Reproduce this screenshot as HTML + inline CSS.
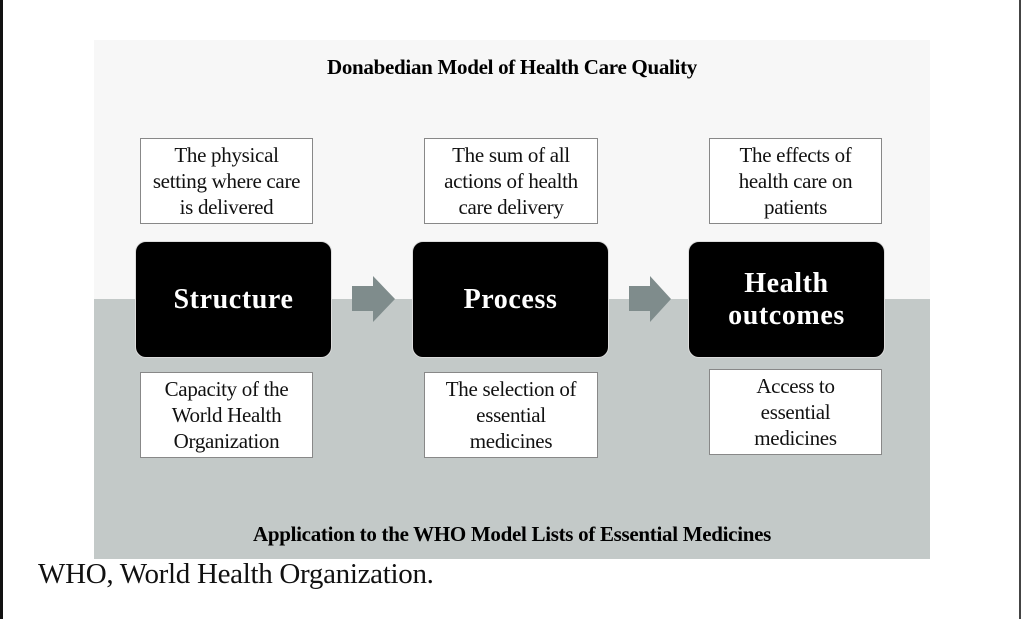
<!DOCTYPE html>
<html><head><style>
body{margin:0;width:1024px;height:619px;background:#fff;position:relative;overflow:hidden;font-family:"Liberation Serif",serif;}
.a{position:absolute}
.tb{position:absolute;background:#fff;border:1.5px solid #888;box-sizing:border-box;display:flex;align-items:center;justify-content:center;text-align:center;font-size:21px;line-height:26px;color:#111;letter-spacing:-0.3px}
.bb{position:absolute;background:#000;border:1.5px solid #ddd;border-radius:11px;box-sizing:border-box;display:flex;align-items:center;justify-content:center;text-align:center;color:#fff;font-weight:bold;font-size:28px;line-height:32px;letter-spacing:0.6px}
</style></head><body>
<div class="a" style="left:0;top:0;width:3px;height:619px;background:#111"></div>
<div class="a" style="left:1019px;top:0;width:2px;height:619px;background:#444"></div>
<div class="a" style="left:94px;top:40px;width:836px;height:259px;background:#f7f7f7"></div>
<div class="a" style="left:94px;top:299px;width:836px;height:260px;background:#c3c9c8"></div>
<div class="a" style="left:94px;top:55px;width:836px;text-align:center;font-weight:bold;font-size:21px;line-height:24px;letter-spacing:-0.3px">Donabedian Model of Health Care Quality</div>
<div class="a" style="left:94px;top:522px;width:836px;text-align:center;font-weight:bold;font-size:21px;line-height:24px;letter-spacing:-0.3px">Application to the WHO Model Lists of Essential Medicines</div>
<div class="a" style="left:38px;top:557px;font-size:29px;line-height:34px;color:#111;letter-spacing:-0.3px">WHO, World Health Organization.</div>

<div class="tb" style="left:140px;top:138px;width:173px;height:86px">The physical<br>setting where care<br>is delivered</div>
<div class="tb" style="left:424px;top:138px;width:174px;height:86px">The sum of all<br>actions of health<br>care delivery</div>
<div class="tb" style="left:709px;top:138px;width:173px;height:86px">The effects of<br>health care on<br>patients</div>

<div class="bb" style="left:135px;top:241px;width:197px;height:117px">Structure</div>
<div class="bb" style="left:412px;top:241px;width:197px;height:117px">Process</div>
<div class="bb" style="left:688px;top:241px;width:197px;height:117px">Health<br>outcomes</div>

<svg class="a" style="left:0;top:0" width="1024" height="619">
<polygon points="352,286 373,286 373,276 395,299 373,322 373,311 352,311" fill="#7f8c8c"/>
<polygon points="629,286 650,286 650,276 671,299 650,322 650,311 629,311" fill="#7f8c8c"/>
</svg>

<div class="tb" style="left:140px;top:372px;width:173px;height:86px">Capacity of the<br>World Health<br>Organization</div>
<div class="tb" style="left:424px;top:372px;width:174px;height:86px">The selection of<br>essential<br>medicines</div>
<div class="tb" style="left:709px;top:369px;width:173px;height:86px">Access to<br>essential<br>medicines</div>
</body></html>
